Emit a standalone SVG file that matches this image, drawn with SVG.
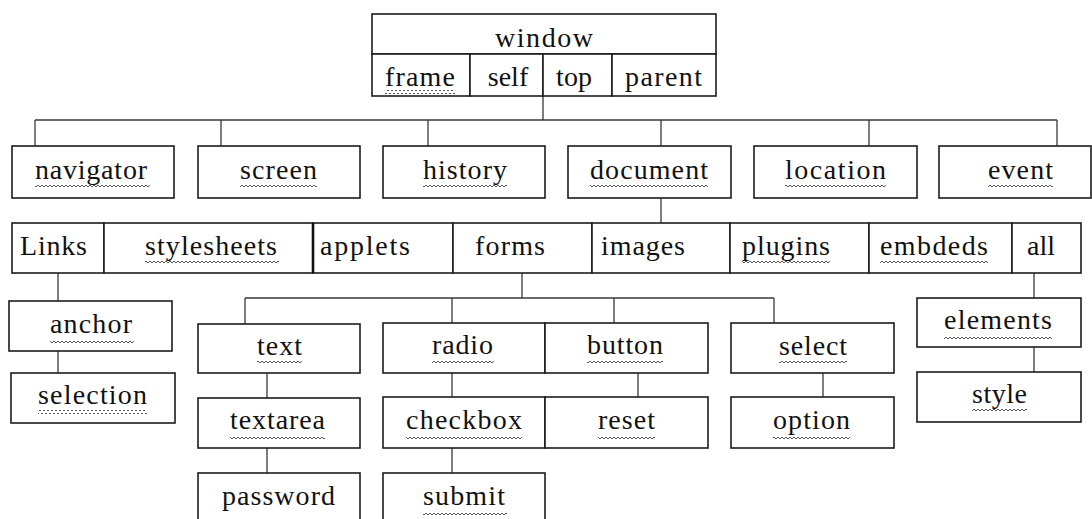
<svg xmlns="http://www.w3.org/2000/svg" width="1092" height="519" viewBox="0 0 1092 519">
<style>
.b{fill:#fff;stroke:#1c1c1c;stroke-width:1.6}
.t{font-family:"Liberation Serif","Times New Roman",serif;font-size:28px;fill:#111;text-anchor:start}
.m{text-anchor:middle}
.c{fill:none;stroke:#3a3a3a;stroke-width:1.3}
.s{fill:url(#sq)}
</style>
<defs>
<pattern id="sq" width="4" height="4" patternUnits="userSpaceOnUse">
<path d="M0,3 L2,1 L4,3" fill="none" stroke="#444" stroke-width="0.9"/>
</pattern>
</defs>
<rect width="1092" height="519" fill="#fff"/>
<g id="connectors">
<path class="c" d="M543,96 V120 M35,120 H1057 M35,120 V146 M221,120 V146 M428,120 V146 M661,120 V146 M869,120 V146 M1057,120 V146"/>
<path class="c" d="M661,198 V223"/>
<path class="c" d="M58,273 V301 M58,351 V373"/>
<path class="c" d="M522,273 V298 M245,298 H774 M245,298 V324 M452,298 V323 M614,298 V323 M774,298 V323"/>
<path class="c" d="M267,373 V398 M267,448 V473"/>
<path class="c" d="M452,373 V397 M638,373 V397 M452,448 V473"/>
<path class="c" d="M823,373 V397"/>
<path class="c" d="M1034,273 V298 M1034,347 V372"/>
</g>
<g id="window"><rect class="b" x="372" y="14" width="344" height="40"/><text class="t" x="495" y="47" textLength="98" lengthAdjust="spacing">window</text><rect class="s" x="495" y="52" width="98" height="4"/></g>
<g id="frame"><rect class="b" x="372" y="54" width="98" height="42"/><text class="t" x="385" y="86" textLength="70" lengthAdjust="spacing">frame</text><rect class="s" x="385" y="90" width="70" height="4"/></g>
<g id="self"><rect class="b" x="470" y="54" width="73" height="42"/><text class="t m" x="508" y="86">self</text></g>
<g id="top"><rect class="b" x="543" y="54" width="69" height="42"/><text class="t m" x="574" y="86">top</text></g>
<g id="parent"><rect class="b" x="612" y="54" width="104" height="42"/><text class="t" x="625" y="86" textLength="77" lengthAdjust="spacing">parent</text></g>

<g id="navigator"><rect class="b" x="12" y="146" width="162" height="52"/><text class="t" x="35" y="179" textLength="112" lengthAdjust="spacing">navigator</text><rect class="s" x="35" y="185" width="115" height="4"/></g>
<g id="screen"><rect class="b" x="198" y="146" width="162" height="52"/><text class="t" x="240" y="179" textLength="77" lengthAdjust="spacing">screen</text><rect class="s" x="240" y="185" width="77" height="4"/></g>
<g id="history"><rect class="b" x="383" y="146" width="162" height="52"/><text class="t" x="423" y="179" textLength="84" lengthAdjust="spacing">history</text><rect class="s" x="423" y="185" width="84" height="4"/></g>
<g id="document"><rect class="b" x="568" y="146" width="163" height="52"/><text class="t" x="590" y="179" textLength="118" lengthAdjust="spacing">document</text><rect class="s" x="590" y="185" width="118" height="4"/></g>
<g id="location"><rect class="b" x="754" y="146" width="163" height="52"/><text class="t" x="785" y="179" textLength="101" lengthAdjust="spacing">location</text><rect class="s" x="785" y="185" width="101" height="4"/></g>
<g id="event"><rect class="b" x="939" y="146" width="152" height="52"/><text class="t" x="988" y="179" textLength="65" lengthAdjust="spacing">event</text><rect class="s" x="988" y="185" width="65" height="4"/></g>

<g id="Links"><rect class="b" x="12" y="223" width="92" height="50"/><text class="t" x="20" y="255" textLength="67" lengthAdjust="spacing">Links</text></g>
<g id="stylesheets"><rect class="b" x="104" y="223" width="209" height="50"/><text class="t" x="145" y="255" textLength="132" lengthAdjust="spacing">stylesheets</text><rect class="s" x="145" y="260" width="134" height="4"/></g>
<g id="applets"><rect class="b" x="313" y="223" width="140" height="50"/><line x1="313" y1="223" x2="313" y2="273" stroke="#111" stroke-width="2.6"/><text class="t" x="320" y="255" textLength="90" lengthAdjust="spacing">applets</text></g>
<g id="forms"><rect class="b" x="453" y="223" width="139" height="50"/><text class="t" x="475" y="255" textLength="70" lengthAdjust="spacing">forms</text></g>
<g id="images"><rect class="b" x="592" y="223" width="138" height="50"/><text class="t" x="601" y="255" textLength="84" lengthAdjust="spacing">images</text></g>
<g id="plugins"><rect class="b" x="730" y="223" width="139" height="50"/><text class="t" x="742" y="255" textLength="88" lengthAdjust="spacing">plugins</text><rect class="s" x="742" y="260" width="88" height="4"/></g>
<g id="embdeds"><rect class="b" x="869" y="223" width="143" height="50"/><text class="t" x="880" y="255" textLength="108" lengthAdjust="spacing">embdeds</text><rect class="s" x="880" y="260" width="108" height="4"/></g>
<g id="all"><rect class="b" x="1012" y="223" width="69" height="50"/><text class="t m" x="1041" y="255">all</text></g>

<g id="anchor"><rect class="b" x="9" y="301" width="163" height="50"/><text class="t" x="50" y="333" textLength="82" lengthAdjust="spacing">anchor</text><rect class="s" x="50" y="339" width="84" height="4"/></g>
<g id="selection"><rect class="b" x="11" y="373" width="164" height="50"/><text class="t" x="38" y="404" textLength="109" lengthAdjust="spacing">selection</text><rect class="s" x="38" y="410" width="109" height="4"/></g>

<g id="text"><rect class="b" x="198" y="324" width="162" height="49"/><text class="t" x="257" y="355" textLength="45" lengthAdjust="spacing">text</text><rect class="s" x="257" y="361" width="45" height="4"/></g>
<g id="textarea"><rect class="b" x="198" y="398" width="162" height="50"/><text class="t" x="230" y="429" textLength="95" lengthAdjust="spacing">textarea</text><rect class="s" x="230" y="435" width="95" height="4"/></g>
<g id="password"><rect class="b" x="198" y="473" width="162" height="60"/><text class="t" x="222" y="505" textLength="113" lengthAdjust="spacing">password</text></g>

<g id="radio"><rect class="b" x="383" y="323" width="162" height="50"/><text class="t" x="432" y="354" textLength="61" lengthAdjust="spacing">radio</text><rect class="s" x="432" y="360" width="62" height="4"/></g>
<g id="button"><rect class="b" x="545" y="323" width="163" height="50"/><text class="t" x="587" y="354" textLength="76" lengthAdjust="spacing">button</text><rect class="s" x="587" y="360" width="76" height="4"/></g>
<g id="checkbox"><rect class="b" x="383" y="397" width="162" height="51"/><text class="t" x="406" y="429" textLength="116" lengthAdjust="spacing">checkbox</text><rect class="s" x="406" y="435" width="116" height="4"/></g>
<g id="reset"><rect class="b" x="545" y="397" width="163" height="51"/><text class="t" x="598" y="429" textLength="57" lengthAdjust="spacing">reset</text><rect class="s" x="598" y="435" width="57" height="4"/></g>
<g id="submit"><rect class="b" x="383" y="473" width="162" height="60"/><text class="t" x="423" y="505" textLength="82" lengthAdjust="spacing">submit</text><rect class="s" x="423" y="511" width="84" height="4"/></g>

<g id="select"><rect class="b" x="731" y="323" width="163" height="50"/><text class="t" x="779" y="355" textLength="68" lengthAdjust="spacing">select</text><rect class="s" x="779" y="361" width="68" height="4"/></g>
<g id="option"><rect class="b" x="731" y="397" width="163" height="51"/><text class="t" x="773" y="429" textLength="77" lengthAdjust="spacing">option</text><rect class="s" x="773" y="435" width="77" height="4"/></g>

<g id="elements"><rect class="b" x="917" y="298" width="164" height="49"/><text class="t" x="944" y="329" textLength="108" lengthAdjust="spacing">elements</text><rect class="s" x="944" y="335" width="108" height="4"/></g>
<g id="style"><rect class="b" x="917" y="372" width="164" height="50"/><text class="t" x="972" y="403" textLength="55" lengthAdjust="spacing">style</text><rect class="s" x="972" y="409" width="55" height="4"/></g>
</svg>
